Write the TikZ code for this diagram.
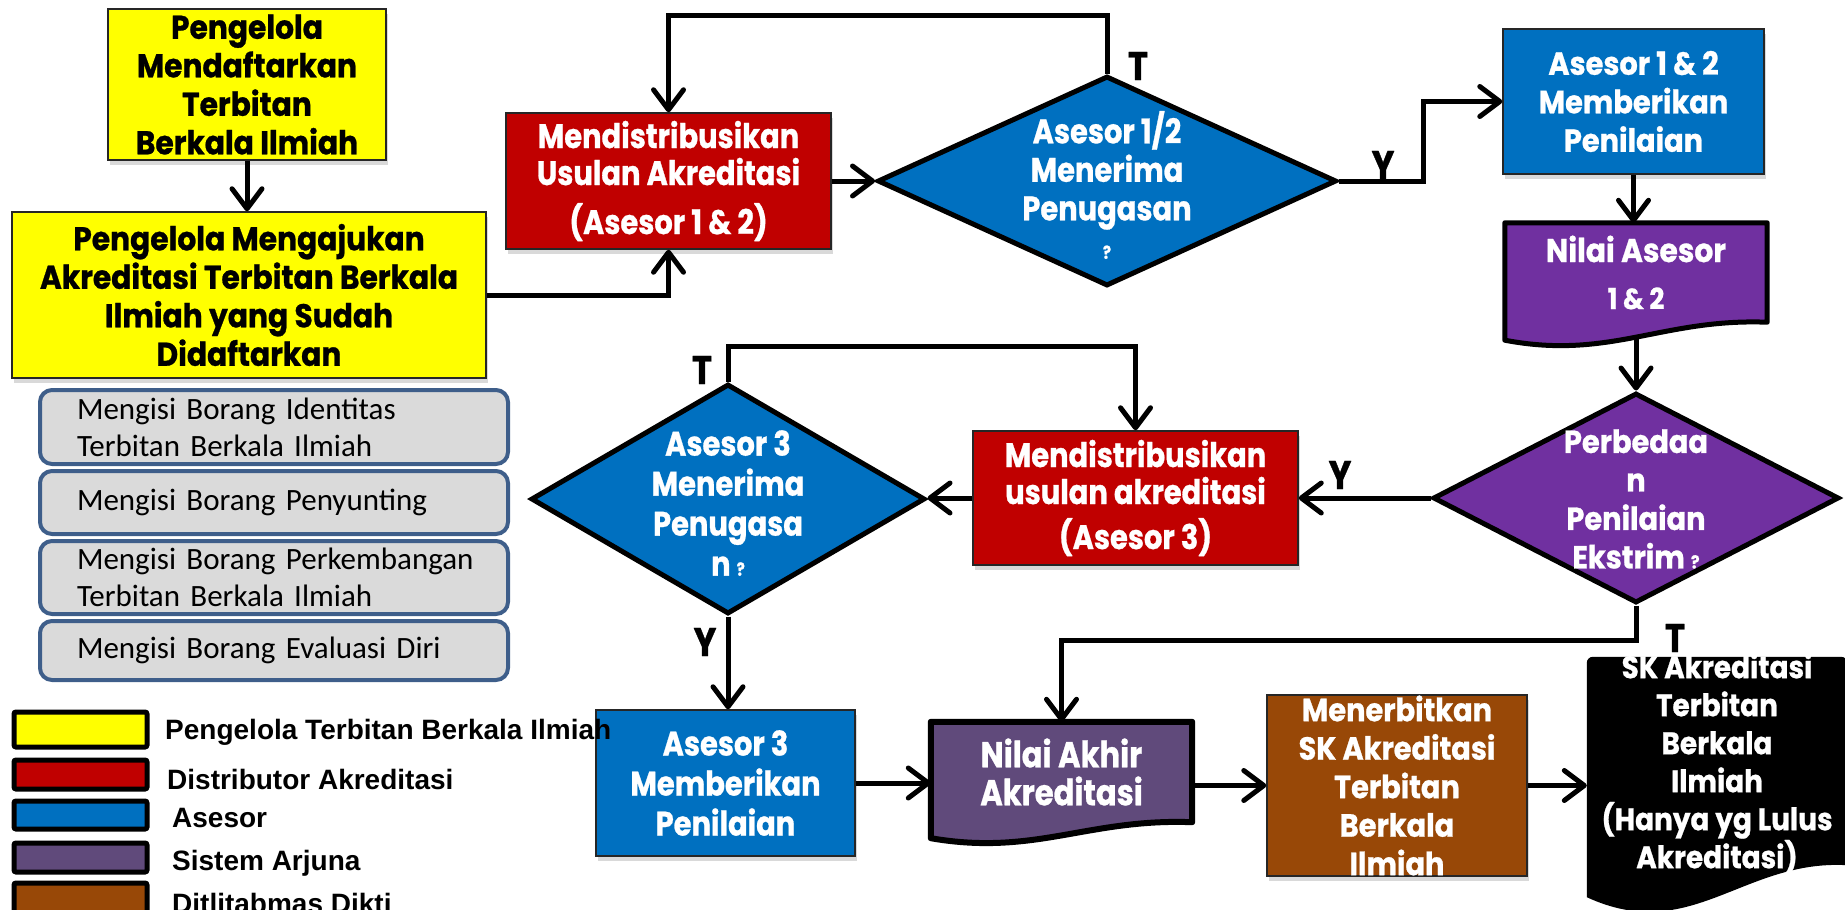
\documentclass[tikz,border=0pt]{standalone}
\usepackage{fontspec}
\usetikzlibrary{arrows.meta,shapes.geometric,shadows,calc}
\newfontfamily\tw[FakeStretch=0.9, BoldFeatures={FakeBold=0.8}]{Poppins}
\newfontfamily\twc[FakeStretch=0.85, BoldFeatures={FakeBold=0.8}]{Poppins}
\newfontfamily\carl{Carlito}
\newfontfamily\arl{Liberation Sans}
\newcommand\fsz[2]{\fontsize{#1}{#2}\selectfont}
\definecolor{cyel}{RGB}{255,255,0}
\definecolor{cred}{RGB}{192,0,0}
\definecolor{cblue}{RGB}{0,112,192}
\definecolor{cpurp}{RGB}{112,48,160}
\definecolor{carj}{RGB}{96,74,123}
\definecolor{cbrown}{RGB}{152,72,7}
\definecolor{cgray}{RGB}{218,218,218}
\definecolor{cgrayb}{RGB}{62,94,138}
\pgfdeclarelayer{bg}
\pgfsetlayers{bg,main}
\begin{document}
\begin{tikzpicture}[x=1pt,y=-1pt,
  flow/.style={rectangle, draw=black!85, line width=1.5pt, align=center, inner sep=0pt,
    text=white, font=\tw\bfseries\fsz{32}{38.5},
    drop shadow={shadow xshift=2pt,shadow yshift=-5pt,opacity=0.3}},
  ybox/.style={flow, fill=cyel, text=black, font=\tw\bfseries\fsz{33}{38.5}},
  rbox/.style={flow, fill=cred, font=\twc\bfseries\fsz{34}{37}},
  bbox/.style={flow, fill=cblue},
  brbox/.style={flow, fill=cbrown},
  dia/.style={diamond, draw=black, line width=5pt, inner sep=0pt},
  dtext/.style={align=center, text=white, inner sep=0pt},
  doctext/.style={rectangle, align=center, text=white, inner sep=0pt},
  gbox/.style={rectangle, rounded corners=12pt, draw=cgrayb, line width=4pt, fill=cgray,
    anchor=north west, inner xsep=37pt, inner ysep=0pt, text width=394pt, align=left,
    font=\carl\fsz{31}{37}},
  lg/.style={rectangle, draw=black, line width=5pt, rounded corners=2pt,
    minimum width=133, anchor=north west},
  lgt/.style={anchor=west, inner sep=0pt, font=\arl\bfseries\fsz{28}{28}},
  arr/.style={line width=5pt, -{Straight Barb[length=20pt,width=30pt,round]}},
  lab/.style={font=\twc\bfseries\fsz{40}{40}, text=black, inner sep=0pt}
]
\useasboundingbox (0,0) rectangle (1845,910);

% ---- side panels (left)
\node[gbox, minimum height=74] (g1) at (38,388) {\mbox{Mengisi Borang Identitas}\\\mbox{Terbitan Berkala Ilmiah}};
\node[gbox, minimum height=63] (g2) at (38,469) {\mbox{Mengisi Borang Penyunting}};
\node[gbox, minimum height=73] (g3) at (38,539) {\mbox{Mengisi Borang Perkembangan}\\\mbox{Terbitan Berkala Ilmiah}};
\node[gbox, minimum height=59] (g4) at (38,619) {\mbox{Mengisi Borang Evaluasi Diri}};

% ---- legend boxes
\node[lg, fill=cyel, minimum height=35] (l1) at (11.5,709.5) {};
\node[lg, fill=cred, minimum height=29] (l2) at (11.5,757.5) {};
\node[lg, fill=cblue, minimum height=28] (l3) at (11.5,798.5) {};
\node[lg, fill=carj, minimum height=29] (l4) at (11.5,840.5) {};
\node[lg, fill=cbrown, minimum height=30] (l5) at (11.5,880.5) {};

% ---- flow nodes
\node[ybox, minimum width=278, minimum height=151] (y1) at (247,84.5)
  {Pengelola\\Mendaftarkan\\Terbitan\\Berkala Ilmiah};
\node[ybox, minimum width=474, minimum height=166] (y2) at (249,295)
  {Pengelola Mengajukan\\Akreditasi Terbitan Berkala\\Ilmiah yang Sudah\\Didaftarkan};

\node[rbox, minimum width=325, minimum height=136] (r1) at (668.5,181)
  {Mendistribusikan\\Usulan Akreditasi\\[12pt](Asesor 1 \& 2)};

\node[dia, fill=cblue, minimum width=459, minimum height=210] (d1) at (1107,181) {};
\node[dtext, font=\twc\bfseries\fsz{34}{38.5}] (d1t) at (1107,185)
  {Asesor 1/2\\Menerima\\Penugasan\\{\fsz{18}{30}?}};

\node[bbox, minimum width=261, minimum height=145] (b1) at (1633.5,101.5)
  {Asesor 1 \& 2\\Memberikan\\Penilaian};

\node[doctext, minimum width=262, minimum height=99, font=\tw\bfseries\fsz{33}{38}] (doc1) at (1636,272.5)
  {Nilai Asesor\\[9pt]{\fsz{29}{30}1 \& 2}};

\node[dia, fill=cpurp, minimum width=406, minimum height=210] (d2) at (1636,498) {};
\node[dtext, font=\tw\bfseries\fsz{32}{38.5}] (d2t) at (1636,499)
  {Perbedaa\\n\\Penilaian\\Ekstrim {\fsz{18}{30}?}};

\node[rbox, minimum width=325, minimum height=134] (r2) at (1135.5,498)
  {Mendistribusikan\\usulan akreditasi\\[8pt](Asesor 3)};

\node[dia, fill=cblue, minimum width=394, minimum height=230] (d3) at (728,499) {};
\node[dtext, font=\twc\bfseries\fsz{34}{40}] (d3t) at (728,503)
  {Asesor 3\\Menerima\\Penugasa\\n {\fsz{18}{30}?}};

\node[bbox, minimum width=259, minimum height=146, font=\twc\bfseries\fsz{34}{40}] (b3) at (725.5,783)
  {Asesor 3\\Memberikan\\Penilaian};

\node[doctext, minimum width=261, minimum height=100, font=\twc\bfseries\fsz{36}{38}] (doc2) at (1061.5,772)
  {Nilai Akhir\\Akreditasi};

\node[brbox, minimum width=260, minimum height=181] (br) at (1397,785.5) {};
\node[dtext, font=\tw\bfseries\fsz{32}{38.5}] (brt) at (1397,785.5)
  {Menerbitkan\\SK Akreditasi\\Terbitan\\Berkala\\Ilmiah};

\node[doctext, minimum width=260, minimum height=208] (sk) at (1717,761) {};

% ---- document shapes (behind their texts)
\begin{pgfonlayer}{bg}
\path[fill=cpurp, draw=black, line width=5pt, line join=round]
  (doc1.north west) -- (doc1.north east) -- (doc1.south east)
  .. controls ($(doc1.south west)+(157,-4)$) and ($(doc1.south west)+(105,38)$) .. ($(doc1.south west)+(0,18)$) -- cycle;
\path[fill=carj, draw=black, line width=6pt, line join=round]
  (doc2.north west) -- (doc2.north east) -- (doc2.south east)
  .. controls ($(doc2.south west)+(157,-4)$) and ($(doc2.south west)+(104,34)$) .. ($(doc2.south west)+(0,16)$) -- cycle;
\path[fill=black, rounded corners=6pt]
  (sk.south west) -- (sk.north west) -- (sk.north east) [sharp corners] -- (sk.south east)
  .. controls ($(sk.south west)+(156,-6)$) and ($(sk.south west)+(104,80)$) .. ($(sk.south west)+(0,32)$) -- cycle;
\end{pgfonlayer}

\node[dtext, font=\tw\bfseries\fsz{31}{38}] (skt) at (1717,764)
  {SK Akreditasi\\Terbitan\\Berkala\\Ilmiah\\(Hanya yg Lulus\\Akreditasi)};

% ---- legend labels (drawn over the boxes)
\node[lgt] (lt1) at (165,732) {Pengelola Terbitan Berkala Ilmiah};
\node[lgt] (lt2) at (167,779) {Distributor Akreditasi};
\node[lgt] (lt3) at (172,818) {Asesor};
\node[lgt] (lt4) at (172,863) {Sistem Arjuna};
\node[lgt] (lt5) at (172,903) {Ditlitabmas Dikti};

% ---- connectors
\draw[arr] (y1.south) -- (y1.south |- y2.north);
\draw[arr] (y2.east) -| (r1.south);
\draw[arr] (d1.north) -- ++(0,-58) -| (r1.north);
\draw[arr] (r1.east) -- (r1.east -| d1.west);
\draw[arr] (d1.east) -- ++(84,0) |- (b1.west);
\draw[arr] (b1.south) -- (b1.south |- doc1.north);
\draw[arr] ($(doc1.south)+(0,15)$) -- (d2.north);
\draw[arr] (d2.west) -- (r2.east);
\draw[arr] (d2.south) -- ++(0,35) -| (doc2.north);
\draw[arr] (r2.west) -- (r2.west -| d3.east);
\draw[arr] (d3.north) -- ++(0,-35) -| (r2.north);
\draw[arr] (d3.south) -- (d3.south |- b3.north);
\draw[arr] (b3.east) -- (b3.east -| doc2.west);
\draw[arr] (br.west -| doc2.east) -- (br.west);
\draw[arr] (br.east) -- (br.east -| sk.west);

% ---- branch labels
\node[lab] (t1) at (1138,66) {T};
\node[lab] (ya) at (1383,165) {Y};
\node[lab] (yb) at (1340,475) {Y};
\node[lab] (t2) at (1675,638) {T};
\node[lab] (t3) at (702,370) {T};
\node[lab] (yc) at (705,642) {Y};
\end{tikzpicture}
\end{document}
